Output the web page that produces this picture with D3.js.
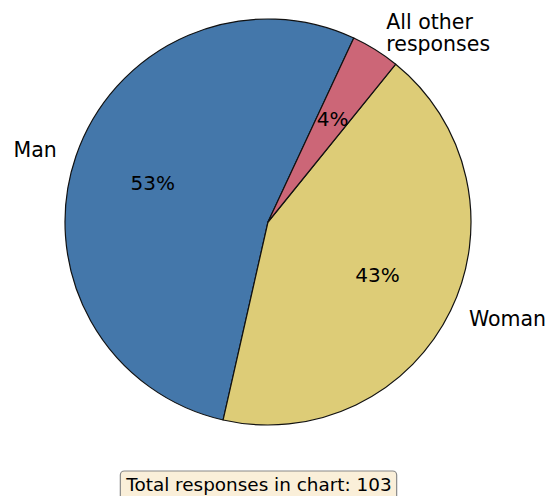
<!DOCTYPE html>
<html><head><meta charset="utf-8">
<script src="https://cdn.jsdelivr.net/npm/d3@7"></script>
<style>body{margin:0;background:#fff}svg{display:block}text{font-family:"DejaVu Sans",sans-serif;fill:#000}</style>
</head><body>
<script>
const categories = ["Man", "Woman", "All other responses"];
const values = [55, 44, 4];
const colors = ["#4477aa", "#ddcc77", "#cc6677"];
const totalLabel = "Total responses in chart: 103";

const W = 558, H = 496, cx = 268, cy = 222, R = 203;
const svg = d3.select("body").append("svg").attr("width", W).attr("height", H);
const g = svg.append("g").attr("transform", `translate(${cx},${cy})`);
const start = 25 * Math.PI / 180;
const pie = d3.pie().sort(null).startAngle(start).endAngle(start - 2 * Math.PI);
const arcs = pie(values);
const arc = d3.arc().innerRadius(0).outerRadius(R);
g.selectAll("path").data(arcs).join("path")
  .attr("d", arc).attr("fill", (d, i) => colors[i])
  .attr("stroke", "#111").attr("stroke-width", 1.2).attr("stroke-linejoin", "round");
const total = d3.sum(values);
function pos(d, r) { const a = (d.startAngle + d.endAngle) / 2; return [r * Math.sin(a), -r * Math.cos(a)]; }
g.selectAll("text.pct").data(arcs).join("text").attr("class", "pct")
  .attr("x", d => pos(d, R * 0.6)[0]).attr("y", d => pos(d, R * 0.6)[1])
  .attr("text-anchor", "middle").attr("dominant-baseline", "central").attr("font-size", 20)
  .text(d => Math.round(d.value / total * 100) + "%");
g.selectAll("text.lab").data(arcs).join("text").attr("class", "lab")
  .each(function (d, i) {
    const [x, y] = pos(d, R * 1.1);
    const t = d3.select(this).attr("font-size", 20.5).attr("text-anchor", x < 0 ? "end" : "start");
    const lines = i === 2 ? ["All other", "responses"] : [categories[i]];
    const lh = 22;
    lines.forEach((l, k) => {
      t.append("tspan").attr("x", x).attr("y", y + (k - (lines.length - 1) / 2) * lh)
        .attr("dominant-baseline", "central").text(l);
    });
  });
const box = svg.append("g");
const rect = box.append("rect");
const bt = box.append("text").attr("x", 259).attr("y", 484).attr("text-anchor", "middle")
  .attr("dominant-baseline", "central").attr("font-size", 18.4).text(totalLabel);
const bb = bt.node().getBBox();
rect.attr("x", bb.x - 5).attr("y", 471).attr("width", bb.width + 10).attr("height", 30)
  .attr("rx", 4).attr("fill", "#faefd9").attr("stroke", "#888").attr("stroke-width", 1.2);
</script>
</body></html>
